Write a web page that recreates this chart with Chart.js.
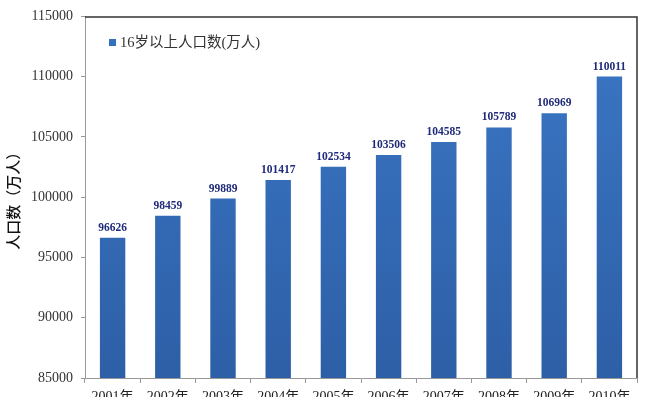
<!DOCTYPE html>
<html>
<head>
<meta charset="utf-8">
<script src="https://cdn.jsdelivr.net/npm/chart.js@4/dist/chart.umd.min.js"></script>
<style>
  html,body{margin:0;padding:0;background:#fff;}
  #wrap{position:relative;width:650px;height:397px;overflow:hidden;}
  #legend{position:absolute;left:109px;top:33px;font-family:"Liberation Serif","Noto Sans CJK SC",serif;font-size:14.5px;color:#333;white-space:nowrap;line-height:18px;}
  #legend span.box{display:inline-block;width:7px;height:7px;background:#3570bd;margin-right:4px;vertical-align:1px;}
</style>
</head>
<body>
<div id="wrap">
<canvas id="c" width="650" height="397"></canvas>
<div id="legend"></div>
</div>
<script>
const categories = ["2001年","2002年","2003年","2004年","2005年","2006年","2007年","2008年","2009年","2010年"];
const seriesLabel = "16岁以上人口数(万人)";
const values = [96626, 98459, 99889, 101417, 102534, 103506, 104585, 105789, 106969, 110011];
const yMin = 85000, yMax = 115000, yStep = 5000;
const yTitle = "人口数（万人）";

document.getElementById('legend').innerHTML = '<span class="box"></span>' + seriesLabel;

const serif = "'Liberation Serif','Noto Sans CJK SC',serif";

const frame = {
  id: 'frame',
  afterDatasetsDraw(chart) {
    const {ctx, chartArea: a} = chart;
    ctx.save();
    ctx.strokeStyle = '#333';
    ctx.lineWidth = 1.5;
    ctx.beginPath();
    ctx.moveTo(a.left, a.top + 0.5);
    ctx.lineTo(a.right, a.top + 0.5);
    ctx.lineTo(a.right, a.bottom);
    ctx.stroke();
    ctx.restore();
  }
};

const dataLabels = {
  id: 'dataLabels',
  afterDatasetsDraw(chart) {
    const {ctx} = chart;
    const meta = chart.getDatasetMeta(0);
    ctx.save();
    ctx.font = "bold 11.5px " + serif;
    ctx.fillStyle = '#1f2a7a';
    ctx.textAlign = 'center';
    ctx.textBaseline = 'alphabetic';
    meta.data.forEach((bar, i) => {
      ctx.fillText(String(chart.data.datasets[0].data[i]), bar.x, bar.y - 7);
    });
    ctx.restore();
  }
};

function barGradient(context) {
  const chart = context.chart;
  const a = chart.chartArea;
  if (!a) return '#3570bd';
  const g = chart.ctx.createLinearGradient(0, a.top, 0, a.bottom);
  g.addColorStop(0, '#3b77c6');
  g.addColorStop(1, '#2d5fa6');
  return g;
}

new Chart(document.getElementById('c'), {
  type: 'bar',
  data: {
    labels: categories,
    datasets: [{
      label: seriesLabel,
      data: values,
      backgroundColor: barGradient,
      borderWidth: 0,
      categoryPercentage: 1,
      barPercentage: 0.46
    }]
  },
  options: {
    responsive: false,
    animation: false,
    devicePixelRatio: 1,
    layout: {padding: {top: 13, right: 13, left: 0, bottom: 0}},
    plugins: {legend: {display: false}, tooltip: {enabled: false}},
    scales: {
      x: {
        grid: {display: true, drawOnChartArea: false, drawTicks: true, tickLength: 5, color: '#999', offset: true},
        border: {display: true, color: '#999', width: 1},
        ticks: {color: '#222', font: {family: serif, size: 14}, padding: 6, maxRotation: 0, autoSkip: false},
        afterFit(scale) { scale.height = 19; }
      },
      y: {
        min: yMin, max: yMax,
        grid: {display: true, drawOnChartArea: false, drawTicks: true, tickLength: 4, color: '#999'},
        border: {display: true, color: '#999', width: 1},
        ticks: {stepSize: yStep, color: '#333', font: {family: serif, size: 14}, padding: 8, callback: v => String(v)},
        title: {display: true, text: yTitle, color: '#111', font: {family: "'Noto Sans CJK SC',sans-serif", size: 15, weight: '500'}, padding: {top: 4, bottom: 0}},
        afterFit(scale) { scale.width = 85; }
      }
    }
  },
  plugins: [frame, dataLabels]
});
</script>
</body>
</html>
